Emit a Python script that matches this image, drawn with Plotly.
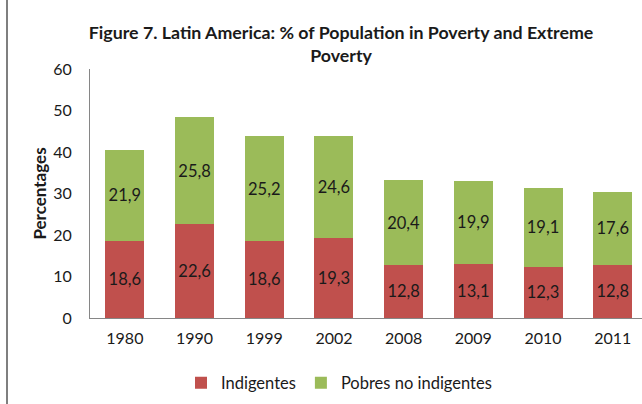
import plotly.graph_objects as go

years = ["1980", "1990", "1999", "2002", "2008", "2009", "2010", "2011"]
indigentes = [18.6, 22.6, 18.6, 19.3, 12.8, 13.1, 12.3, 12.8]
pobres_no_indigentes = [21.9, 25.8, 25.2, 24.6, 20.4, 19.9, 19.1, 17.6]
yticks = [0, 10, 20, 30, 40, 50, 60]

FONT = "Lato"
TXT = "#1a1a1a"
W, H = 642, 404
L, R, T, B = 90, 0, 69, 86
PH = H - T - B

fig = go.Figure()
for name, vals, col in [("Indigentes", indigentes, "#C0504D"),
                        ("Pobres no indigentes", pobres_no_indigentes, "#9BBB59")]:
    fig.add_trace(go.Bar(
        x=years, y=vals, name=name,
        marker=dict(color=col, line=dict(width=0)),
        texttemplate="%{y:.1f}", textposition="inside", insidetextanchor="middle",
        textfont=dict(color=TXT, size=16.5, family=FONT), width=0.56,
        hoverinfo="skip",
    ))

pw = W - L - R
fig.update_layout(
    width=W, height=H, barmode="stack", separators=",.",
    margin=dict(l=L, r=R, t=T, b=B, pad=0),
    paper_bgcolor="white", plot_bgcolor="white",
    font=dict(family=FONT, size=16, color=TXT),
    title=dict(text="<b>Figure 7. Latin America: % of Population in Poverty and Extreme<br>Poverty</b>",
               x=341 / W, xanchor="center", y=1 - 39 / H, yanchor="top",
               font=dict(size=17.8, family=FONT)),
    xaxis=dict(type="category", range=[-0.5, 7.42], showgrid=False,
               showline=True, linecolor="#868686", linewidth=1,
               ticks="", tickfont=dict(size=16), fixedrange=True,
               ticklabelstandoff=6),
    yaxis=dict(range=[0, 60], tickvals=yticks, showgrid=False,
               showline=True, linecolor="#868686", linewidth=1,
               ticks="", tickfont=dict(size=16), ticklabelstandoff=14,
               fixedrange=True,
               title=dict(text="<b>Percentages</b>", font=dict(size=17), standoff=2)),
    legend=dict(orientation="h", x=(339 - L) / pw, xanchor="center",
                y=(T + PH - 383) / PH, yanchor="middle",
                font=dict(size=16.5), traceorder="normal"),
    showlegend=True,
)
xf = (7 - L) / pw
for y0, y1 in [(-0.35, 0.0), (0.0, 1.0), (1.0, 1.28)]:
    fig.add_shape(type="line", xref="paper", yref="paper", layer="above",
                  x0=xf, x1=xf, y0=y0, y1=y1,
                  line=dict(color="#7f7f7f", width=2))
fig.write_html("out.html", config={"displayModeBar": False},
               post_script="document.body.style.margin='0';document.body.style.overflow='hidden';")
